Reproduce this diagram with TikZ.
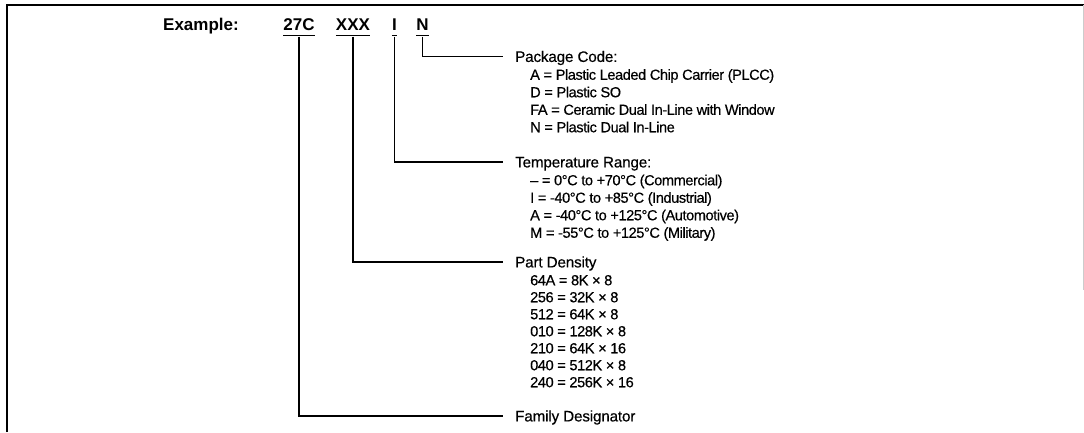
\documentclass[tikz,border=0pt]{standalone}
\usepackage{fontspec}
\setmainfont{Liberation Sans}
\newfontfamily\tightfont[LetterSpace=-3,FakeBold=0.4]{Liberation Sans}
\newfontfamily\headfont[LetterSpace=-1,FakeBold=0.4]{Liberation Sans}
\begin{document}
\begin{tikzpicture}[x=1pt,y=-1pt,
  codetxt/.style={font=\fontsize{17}{19}\selectfont\bfseries, inner sep=0pt, anchor=base},
  head/.style={font=\fontsize{15.2}{17}\headfont, anchor=west, inner xsep=12pt, inner ysep=0pt, text height=10.8pt, text depth=0pt},
  item/.style={font=\fontsize{14.6}{17}\tightfont, anchor=west, inner sep=0pt, text height=10.5pt, text depth=0pt},
  conn/.style={line width=1.2pt},
  uline/.style={line width=1.6pt},
  frame/.style={line width=1.6pt}]
\useasboundingbox (0,0) rectangle (1084,432);
% frame
\coordinate (tl) at (7,5);
\coordinate (tr) at (1084,5);
\coordinate (bl) at (7,432);
\coordinate (rt) at (1083,5);
\coordinate (rb) at (1083,290);
\draw[frame] (bl) -- (tl) -- (tr);
\draw[gray!40, line width=0.8pt] (rt) -- (rb);
% example line
\node[codetxt, anchor=base west] (ex) at (163,30) {Example:};
\node[codetxt] (fam) at (299,30) {27C};
\node[codetxt] (xxx) at (353,30) {XXX};
\node[codetxt] (tmp) at (394.5,30) {I};
\node[codetxt] (pkg) at (422.5,30) {N};
\foreach \n in {fam,xxx,tmp,pkg}{
  \draw[uline] ([yshift=-5.5pt]\n.base west) -- ([yshift=-5.5pt]\n.base east);
}
% headings
\node[head] (hpkg) at (503,56.5) {Package Code:};
\node[head] (htmp) at (503,162) {Temperature Range:};
\node[head] (hden) at (503,262) {Part Density};
\node[head] (hfam) at (503,416) {Family Designator};
% connectors
\draw[conn] ([yshift=-6.5pt]pkg.base) |- (hpkg.west);
\draw[conn] ([yshift=-6.5pt]tmp.base) |- (htmp.west);
\draw[conn] ([yshift=-6.5pt]xxx.base) |- (hden.west);
\draw[conn] ([yshift=-6.5pt]fam.base) |- (hfam.west);
% package items
\node[item] (p1) at (530,74.5) {A = Plastic Leaded Chip Carrier (PLCC)};
\node[item] (p2) at (530,92) {D = Plastic SO};
\node[item] (p3) at (530,109.5) {FA = Ceramic Dual In-Line with Window};
\node[item] (p4) at (530,127) {N = Plastic Dual In-Line};
% temperature items
\node[item] (t1) at (530,180) {– = 0°C to +70°C (Commercial)};
\node[item] (t2) at (530,197.5) {I = -40°C to +85°C (Industrial)};
\node[item] (t3) at (530,215) {A = -40°C to +125°C (Automotive)};
\node[item] (t4) at (530,232.5) {M = -55°C to +125°C (Military)};
% density items
\node[item] (d1) at (530,280) {64A = 8K × 8};
\node[item] (d2) at (530,297) {256 = 32K × 8};
\node[item] (d3) at (530,314) {512 = 64K × 8};
\node[item] (d4) at (530,331) {010 = 128K × 8};
\node[item] (d5) at (530,348) {210 = 64K × 16};
\node[item] (d6) at (530,365) {040 = 512K × 8};
\node[item] (d7) at (530,382) {240 = 256K × 16};
\end{tikzpicture}
\end{document}
